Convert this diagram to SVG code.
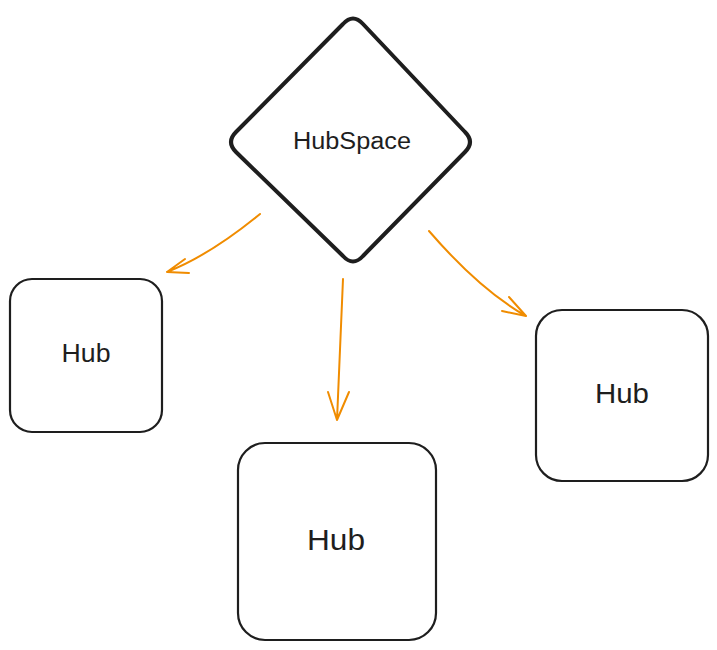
<svg xmlns="http://www.w3.org/2000/svg" width="717" height="650" viewBox="0 0 717 650">
<style>
.shape{fill:#ffffff;stroke:#1e1e1e;stroke-width:2.2;stroke-linejoin:round}
.diamond{fill:#ffffff;stroke:#1e1e1e;stroke-width:4;stroke-linejoin:round}
.label{font-family:"Liberation Sans",Arial,sans-serif;fill:#1e1e1e;text-anchor:middle}
.conn{fill:none;stroke:#f08c00;stroke-width:2;stroke-linecap:round;stroke-linejoin:round}
</style>
<rect width="717" height="650" fill="#ffffff"/>
<g id="hubspace">
<path class="diamond" d="M343 24 Q353 13 363 24 L465 132 Q475 142 465 152 L363 256 Q353 267 343 256 L236 152 Q226 142 236 132 Z"/>
<text class="label" x="352" y="149" font-size="23" textLength="118" lengthAdjust="spacingAndGlyphs">HubSpace</text>
</g>
<g id="hub-left">
<rect class="shape" x="10" y="279" width="152" height="153" rx="22"/>
<text class="label" x="86" y="362" font-size="26" textLength="49" lengthAdjust="spacingAndGlyphs">Hub</text>
</g>
<g id="hub-middle">
<rect class="shape" x="238" y="443" width="198" height="197" rx="27"/>
<text class="label" x="336" y="550" font-size="30" textLength="58" lengthAdjust="spacingAndGlyphs">Hub</text>
</g>
<g id="hub-right">
<rect class="shape" x="536" y="310" width="172" height="171" rx="26"/>
<text class="label" x="622" y="403" font-size="28" textLength="54" lengthAdjust="spacingAndGlyphs">Hub</text>
</g>
<g id="connectors">
<path class="conn" d="M260 214 Q210 255 167 272 M185 259 L167 272 L189 273"/>
<path class="conn" d="M343 279 L337 420 M328 392 L337 420 L349 392"/>
<path class="conn" stroke-width="2.6" d="M429 231 Q480 290 526 316 M509 297 L526 316 L502 311"/>
</g>
</svg>
